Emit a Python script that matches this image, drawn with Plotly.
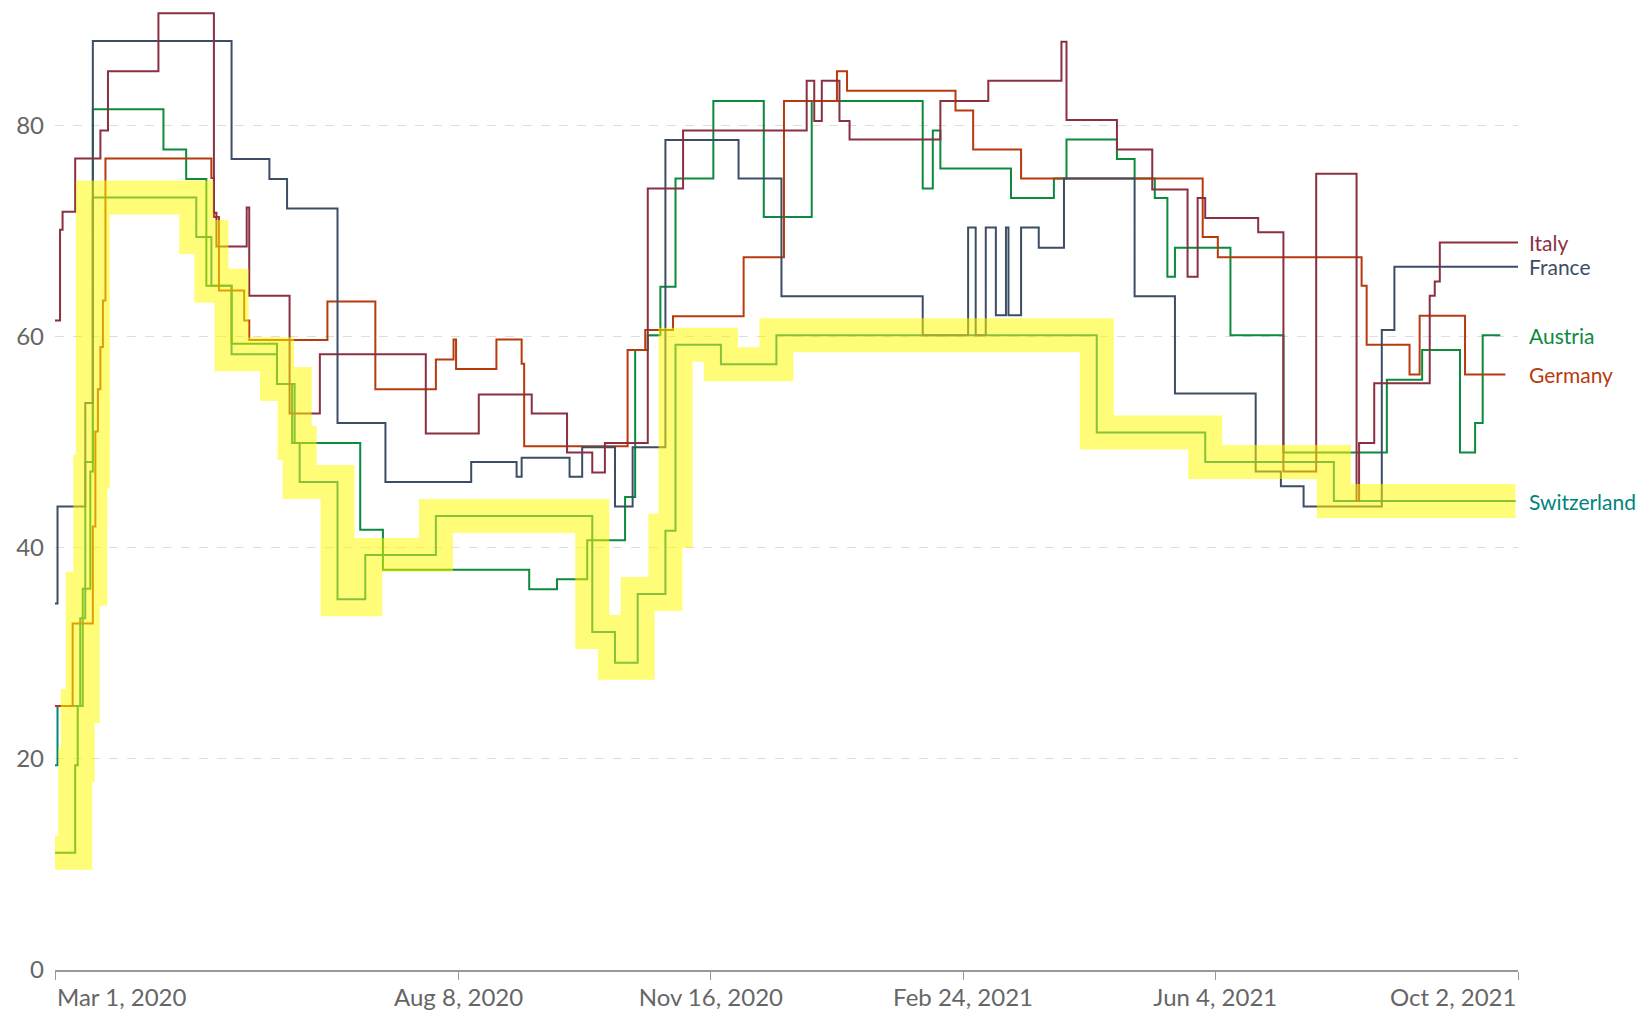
import pandas as pd
import plotly.graph_objects as go

START = pd.Timestamp("2020-03-01")

# day offsets from Mar 1, 2020 where the stringency index changes, and new value
italy_day = [0, 2, 3, 8, 18, 21, 41, 63, 64, 76, 77, 93, 105, 147, 168, 189, 203, 213, 218, 235, 249,
             298, 301, 304, 311, 315, 351, 370, 399, 401, 421, 435, 449, 453, 456, 477, 487, 500, 516,
             517, 523, 545, 547, 549, 580]
italy_val = [61.5, 70.1, 71.8, 76.85, 79.5, 85.1, 90.6, 71.7, 68.5, 72.2, 63.85, 52.7, 58.3, 50.8, 54.5,
             52.7, 49.0, 47.1, 49.9, 74.0, 79.5, 84.2, 80.4, 84.2, 80.4, 78.65, 82.3, 84.2, 87.9, 80.5,
             77.7, 73.9, 65.65, 73.1, 71.2, 69.85, 47.2, 75.4, 44.4, 49.9, 55.55, 63.85, 65.2, 68.9, 68.9]

france_day = [0, 1, 12, 15, 70, 85, 92, 112, 131, 165, 183, 185, 204, 209, 222, 229, 242, 271, 288, 344,
              362, 365, 369, 373, 377, 378, 383, 390, 400, 428, 444, 476, 486, 495, 526, 531, 581]
france_val = [34.7, 43.9, 53.7, 87.96, 76.8, 74.9, 72.1, 51.8, 46.2, 48.1, 46.7, 48.5, 46.7, 49.5, 43.9,
              49.5, 78.6, 74.95, 63.8, 60.1, 70.3, 60.1, 70.3, 62.0, 70.3, 62.0, 70.3, 68.4, 74.95, 63.8,
              54.6, 47.2, 45.8, 43.9, 60.6, 66.6, 66.6]

germany_day = [0, 7, 15, 16, 17, 18, 19, 20, 62, 63, 65, 75, 77, 108, 127, 151, 158, 159, 175, 185, 186,
               227, 234, 245, 273, 289, 310, 314, 357, 364, 383, 455, 461, 518, 520, 537, 541, 559, 575]
germany_val = [25.0, 32.8, 42.0, 51.0, 55.0, 59.0, 63.4, 76.85, 75.0, 71.3, 64.35, 61.5, 59.65, 63.3, 55.0,
               57.8, 59.7, 56.9, 59.7, 57.4, 49.6, 58.7, 60.6, 61.9, 67.5, 82.3, 85.1, 83.25, 81.4, 77.7,
               74.95, 69.4, 67.5, 64.8, 59.2, 56.4, 61.95, 56.4, 56.4]

austria_day = [0, 8, 9, 11, 14, 15, 43, 52, 60, 70, 88, 94, 121, 130, 188, 199, 211, 226, 230, 235, 240,
               246, 261, 281, 300, 344, 348, 351, 379, 396, 401, 421, 428, 436, 441, 444, 466, 487, 528,
               542, 557, 563, 566, 573]
austria_val = [11.1, 19.4, 25.0, 36.1, 47.2, 81.5, 77.7, 74.9, 64.8, 59.3, 55.5, 49.9, 41.7, 37.9, 36.05,
               37.0, 40.7, 44.8, 58.7, 60.1, 64.7, 74.95, 82.3, 71.3, 82.3, 74.0, 79.5, 75.9, 73.1, 74.95,
               78.65, 76.8, 74.95, 73.1, 65.65, 68.4, 60.1, 49.0, 55.9, 58.7, 49.0, 51.8, 60.1, 60.1]

swiss_day = [0, 1, 10, 12, 15, 56, 62, 70, 88, 95, 97, 112, 123, 151, 213, 222, 231, 242, 246, 264, 286,
             413, 456, 507, 579]
swiss_val = [19.4, 25.0, 33.3, 48.1, 73.15, 69.4, 64.8, 58.3, 55.5, 49.9, 46.2, 35.1, 39.3, 43.0, 32.0,
             29.1, 35.6, 41.6, 59.2, 57.35, 60.1, 50.9, 48.1, 44.4, 44.4]

tick_days = [0, 160, 260, 360, 460, 580]
tick_text = ["Mar 1, 2020", "Aug 8, 2020", "Nov 16, 2020", "Feb 24, 2021", "Jun 4, 2021", "Oct 2, 2021"]

COLORS = {
    "Italy": "#8a3040",
    "France": "#3c4e66",
    "Germany": "#b83a0e",
    "Austria": "#0c8a3e",
    "Switzerland": "#00847e",
}
FONT = "Lato, 'Open Sans', sans-serif"


def to_dates(days):
    return [START + pd.Timedelta(days=int(d)) for d in days]


series = [
    ("Switzerland", swiss_day, swiss_val),
    ("Austria", austria_day, austria_val),
    ("Germany", germany_day, germany_val),
    ("France", france_day, france_val),
    ("Italy", italy_day, italy_val),
]

fig = go.Figure()
for name, days, vals in series:
    fig.add_trace(go.Scatter(
        x=to_dates(days), y=vals, mode="lines", name=name, showlegend=False,
        line=dict(color=COLORS[name], width=2, shape="hv"), hoverinfo="skip"))

# yellow marker-pen highlight following the lowest-starting path
hl_day = [d for d in austria_day if d < 15] + [d for d in swiss_day if d >= 15]
hl_val = [v for d, v in zip(austria_day, austria_val) if d < 15] + \
         [v for d, v in zip(swiss_day, swiss_val) if d >= 15]
fig.add_trace(go.Scatter(
    x=to_dates(hl_day), y=hl_val, mode="lines", showlegend=False, hoverinfo="skip",
    line=dict(color="rgba(255,250,0,0.53)", width=34, shape="hv")))

annotations = []
end_vals = {"Italy": italy_val[-1], "France": france_val[-1], "Austria": austria_val[-1],
            "Germany": germany_val[-1], "Switzerland": swiss_val[-1]}
for name, v in end_vals.items():
    annotations.append(dict(x=1.006, xref="paper", y=v, yref="y", text=name, showarrow=False,
                            xanchor="left", yanchor="middle",
                            font=dict(family=FONT, size=21, color=COLORS[name])))
# first / last x labels are aligned to the plot edges
annotations.append(dict(x=to_dates([tick_days[0]])[0], xref="x", y=0, yref="paper", yanchor="top",
                        xanchor="left", yshift=-10, text=tick_text[0], showarrow=False,
                        font=dict(family=FONT, size=24, color="#666")))
annotations.append(dict(x=to_dates([tick_days[-1]])[0], xref="x", y=0, yref="paper", yanchor="top",
                        xanchor="right", yshift=-10, text=tick_text[-1], showarrow=False,
                        font=dict(family=FONT, size=24, color="#666")))

fig.update_layout(
    width=1648, height=1013,
    margin=dict(l=55, r=130, t=9, b=43, autoexpand=False),
    paper_bgcolor="white", plot_bgcolor="white",
    font=dict(family=FONT, color="#666"),
    annotations=annotations,
    xaxis=dict(
        type="date", range=[START, START + pd.Timedelta(days=580)],
        tickvals=to_dates(tick_days),
        ticktext=[""] + tick_text[1:-1] + [""],
        ticks="outside", ticklen=8, tickcolor="#999", tickwidth=1,
        showline=True, linecolor="#999", linewidth=1.5,
        showgrid=False, zeroline=False, automargin=False,
        ticklabelstandoff=-3,
        tickfont=dict(family=FONT, size=24, color="#666"),
    ),
    yaxis=dict(
        range=[0, 91], tickvals=[0, 20, 40, 60, 80],
        showgrid=True, gridcolor="#dddddd", griddash="dash", gridwidth=1,
        zeroline=False, showline=False, ticks="", automargin=False,
        ticklabelstandoff=10,
        tickfont=dict(family=FONT, size=24, color="#666"),
    ),
)

fig.write_html("out.html", post_script="document.body.style.margin='0';",
               config={"displayModeBar": False})
